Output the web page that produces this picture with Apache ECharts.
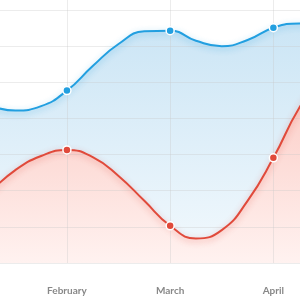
<!DOCTYPE html>
<html><head><meta charset="utf-8">
<script src="https://cdn.jsdelivr.net/npm/echarts@6/dist/echarts.min.js"></script>
<style>html,body{margin:0;padding:0;background:#fff}#c{width:300px;height:300px}</style>
</head><body><div id="c"></div>
<script>
// month index: 1 = January ... 5 = May
const monthNames = ['January', 'February', 'March', 'April', 'May'];
// x positions of samples (month index, quarter-month steps)
const xPositions = [1.25, 1.5, 1.75, 2, 2.25, 2.5, 2.75, 3, 3.25, 3.5, 3.75, 4, 4.25, 4.5];
const blueValues = [43.7, 42.2, 43.4, 47.7, 54.5, 60.6, 64.1, 64.3, 61.5, 60.0, 61.7, 65.1, 66.3, 64.5];
const redValues  = [19.4, 25.7, 29.6, 31.3, 29.3, 24.1, 17.2, 10.3, 6.8, 9.1, 17.2, 29.1, 42.9, 52.8];

const BLUE = '#229fe0';
const RED = '#e04a3b';

function pairs(vals) { return xPositions.map((x, i) => [x, vals[i]]); }
function grad(top, bottom) {
  return new echarts.graphic.LinearGradient(0, 0, 0, 1, [
    { offset: 0, color: top }, { offset: 1, color: bottom }
  ]);
}
function areaSeries(vals, top, bottom, z) {
  return {
    type: 'line', smooth: true, data: pairs(vals), z, symbol: 'none', silent: true,
    lineStyle: { width: 0 }, areaStyle: { color: grad(top, bottom), opacity: 1 }
  };
}
function lineSeries(vals, color, shadow) {
  return {
    type: 'line', smooth: true, data: pairs(vals), z: 5,
    symbol: (v) => Number.isInteger(v[0]) ? 'circle' : 'none',
    symbolSize: 8,
    itemStyle: { color, borderColor: '#fff', borderWidth: 1.5 },
    lineStyle: { color, width: 2, shadowColor: shadow, shadowBlur: 6, shadowOffsetY: 2 }
  };
}

const chart = echarts.init(document.getElementById('c'), null, { renderer: 'canvas' });
chart.setOption({
  animation: false,
  grid: { left: -36.3, right: -76.6, top: -26.1, bottom: 37, containLabel: false, outerBoundsMode: 'none' },
  xAxis: {
    type: 'value', min: 1, max: 5, interval: 1, z: 3,
    axisLine: { show: false }, axisTick: { show: false },
    splitLine: { show: true, lineStyle: { color: 'rgba(200,200,200,0.35)', width: 1 } },
    axisLabel: {
      margin: 23, color: '#888', fontSize: 10, fontFamily: 'Lato', fontWeight: 'bold',
      formatter: (v) => monthNames[v - 1] || ''
    }
  },
  yAxis: {
    type: 'value', min: 0, max: 80, interval: 10, z: 3,
    axisLine: { show: false }, axisTick: { show: false }, axisLabel: { show: false },
    splitLine: { show: true, lineStyle: { color: 'rgba(200,200,200,0.35)', width: 1 } }
  },
  series: [
    areaSeries(blueValues, '#cbe5f5', '#f3f9fd', 1),
    areaSeries(redValues, '#fbc9c2', '#fff2f0', 2),
    lineSeries(blueValues, BLUE, 'rgba(34,159,224,0.45)'),
    lineSeries(redValues, RED, 'rgba(224,74,59,0.45)')
  ]
});
</script></body></html>
